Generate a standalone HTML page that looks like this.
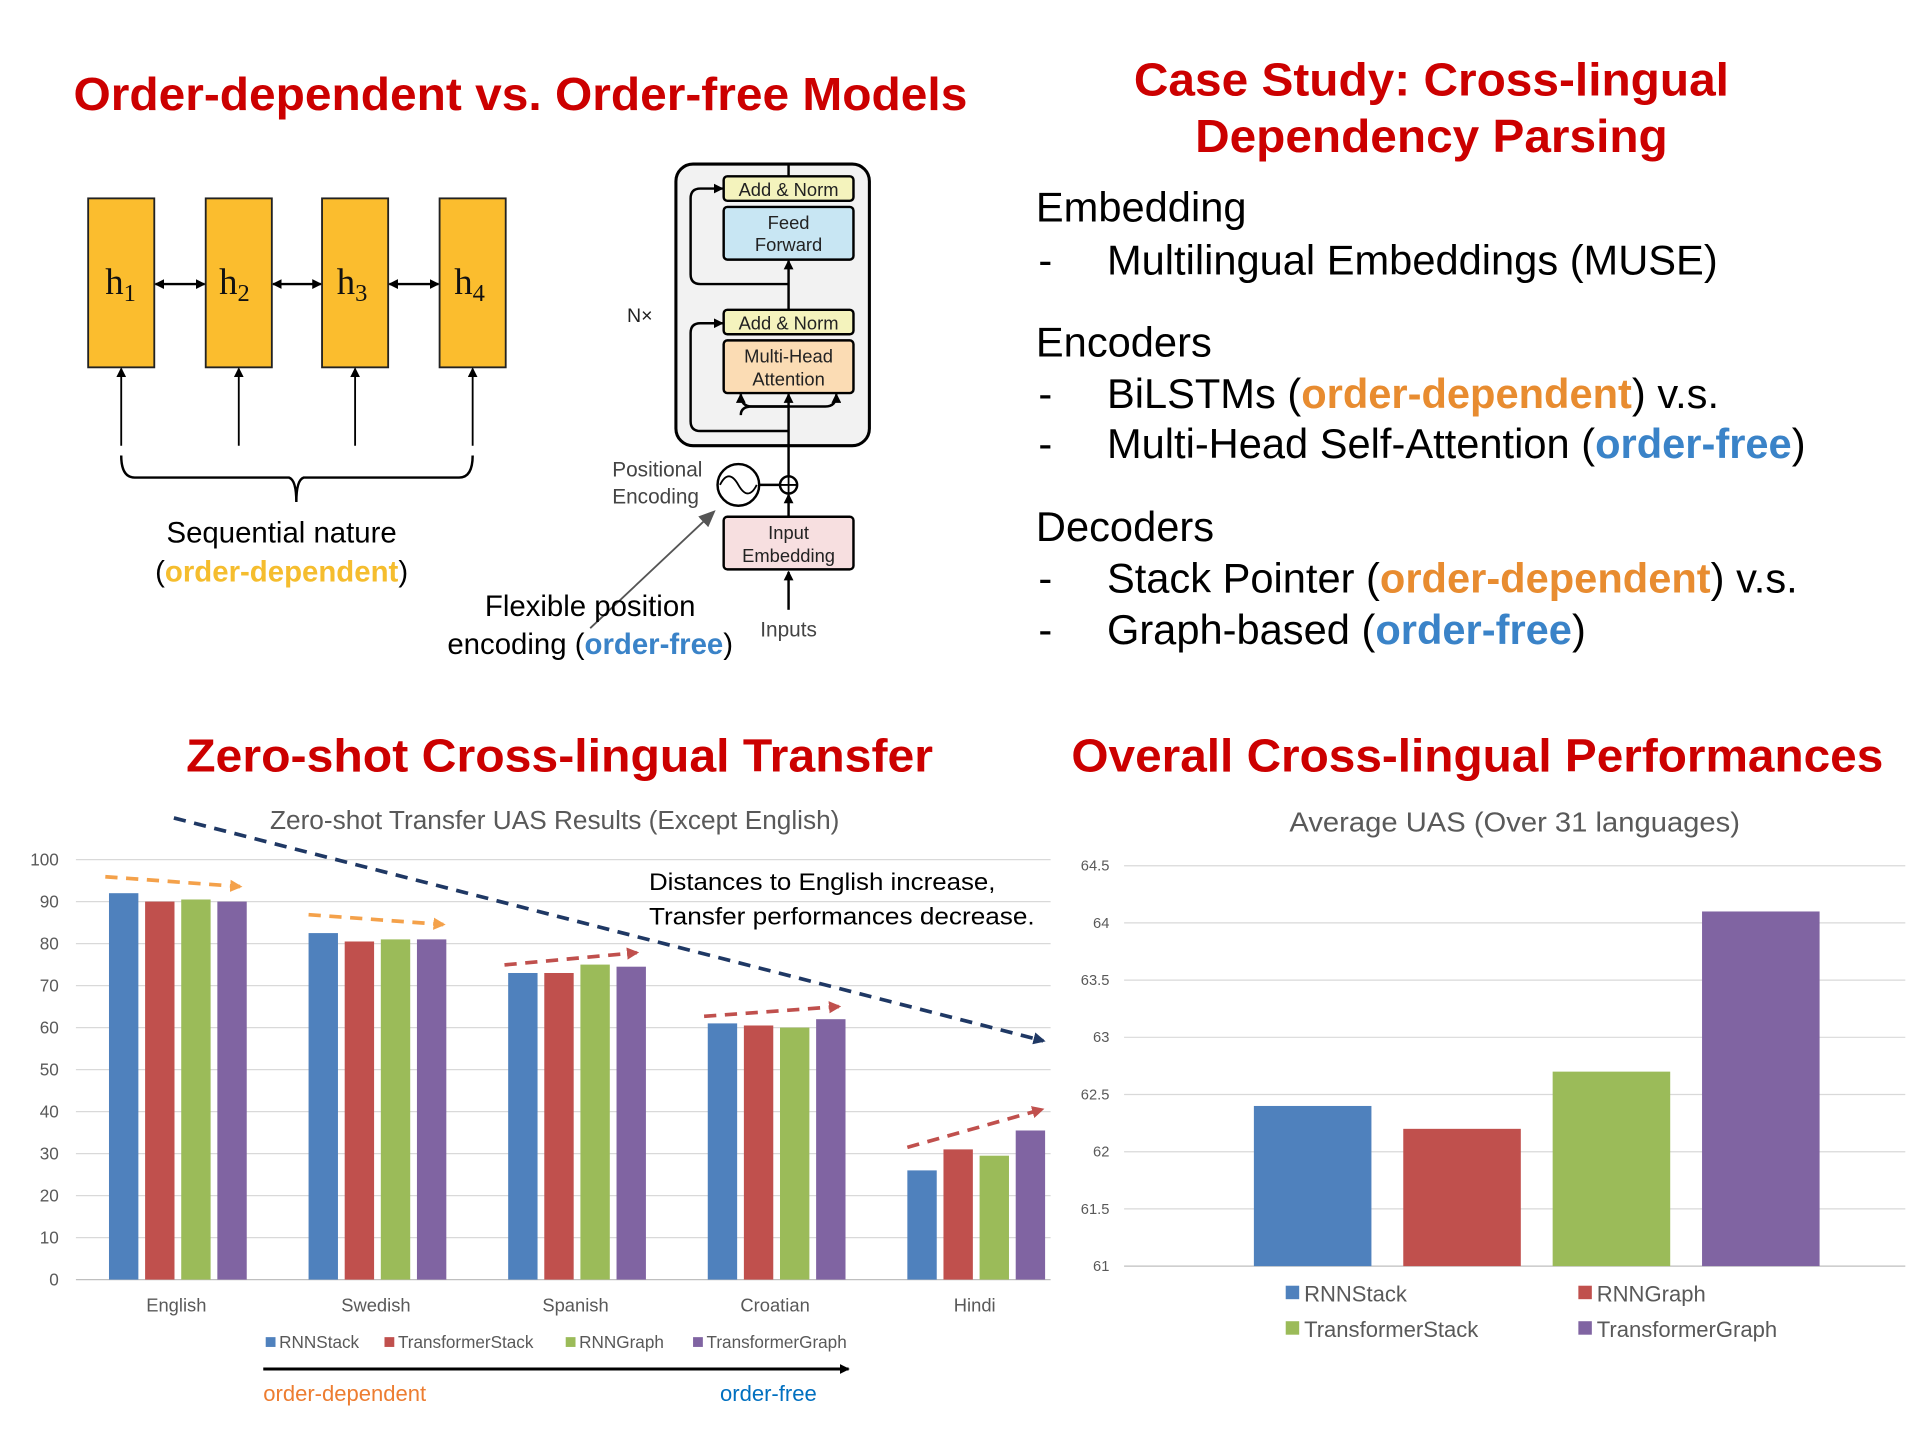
<!DOCTYPE html>
<html><head><meta charset="utf-8"><style>
html,body{margin:0;padding:0;background:#fff;}
svg{display:block;font-family:"Liberation Sans",sans-serif;}
</style></head><body>
<svg id="root" width="1920" height="1440" viewBox="0 0 1568 1176" preserveAspectRatio="none" xmlns="http://www.w3.org/2000/svg">
<defs>
<marker id="ab" markerWidth="8" markerHeight="8" refX="7" refY="4" orient="auto" markerUnits="userSpaceOnUse"><path d="M0,0 L8,4 L0,8z" fill="#000"/></marker>
<marker id="abs" markerWidth="8" markerHeight="8" refX="1" refY="4" orient="auto" markerUnits="userSpaceOnUse"><path d="M8,0 L0,4 L8,8z" fill="#000"/></marker>
<marker id="ag" markerWidth="14" markerHeight="12" refX="12" refY="6" orient="auto" markerUnits="userSpaceOnUse"><path d="M0,0 L14,6 L0,12z" fill="#555"/></marker>
<marker id="mo" markerWidth="10" markerHeight="10" refX="8" refY="5" orient="auto" markerUnits="userSpaceOnUse"><path d="M0,0 L10,5 L0,10z" fill="#f4a14a"/></marker>
<marker id="mr" markerWidth="10" markerHeight="10" refX="8" refY="5" orient="auto" markerUnits="userSpaceOnUse"><path d="M0,0 L10,5 L0,10z" fill="#c0504d"/></marker>
<marker id="mb" markerWidth="10" markerHeight="10" refX="8" refY="5" orient="auto" markerUnits="userSpaceOnUse"><path d="M0,0 L10,5 L0,10z" fill="#1f3864"/></marker>
</defs>

<text x="60" y="90" font-size="38" font-weight="bold" fill="#cc0000" textLength="730" lengthAdjust="spacingAndGlyphs">Order-dependent vs. Order-free Models</text>
<g>
<g fill="#fbbd2e" stroke="#222" stroke-width="1.5">
<rect x="72" y="162" width="54" height="138"/><rect x="168" y="162" width="54" height="138"/>
<rect x="263" y="162" width="54" height="138"/><rect x="359" y="162" width="54" height="138"/>
</g>
<g font-family="'Liberation Serif',serif" font-size="30" fill="#111">
<text x="86" y="240">h<tspan font-size="20" dy="6">1</tspan></text>
<text x="179" y="240">h<tspan font-size="20" dy="6">2</tspan></text>
<text x="275" y="240">h<tspan font-size="20" dy="6">3</tspan></text>
<text x="371" y="240">h<tspan font-size="20" dy="6">4</tspan></text>
</g>
<g stroke="#000" stroke-width="2" marker-end="url(#ab)" marker-start="url(#abs)">
<line x1="127" y1="232" x2="167" y2="232"/><line x1="223" y1="232" x2="262" y2="232"/><line x1="318" y1="232" x2="358" y2="232"/>
</g>
<g stroke="#000" stroke-width="1.5" marker-end="url(#ab)">
<line x1="99" y1="364" x2="99" y2="301"/><line x1="195" y1="364" x2="195" y2="301"/>
<line x1="290" y1="364" x2="290" y2="301"/><line x1="386" y1="364" x2="386" y2="301"/>
</g>
<path d="M99,372 Q99,390 110,390 L236,390 Q242,392 242,410 Q242,392 248,390 L375,390 Q386,390 386,372" fill="none" stroke="#000" stroke-width="2"/>
<text x="230" y="443" text-anchor="middle" font-size="24">Sequential nature</text>
<text x="230" y="475" text-anchor="middle" font-size="24">(<tspan fill="#f5bd2e" font-weight="bold">order-dependent</tspan>)</text>
</g>

<g font-size="15" fill="#222">
<rect x="552" y="134" width="158" height="230" rx="14" fill="#f2f2f2" stroke="#000" stroke-width="2.5"/>
<line x1="644" y1="134" x2="644" y2="144" stroke="#000" stroke-width="2"/>
<path d="M644,232 L572,232 Q564,232 564,224 L564,162 Q564,154 572,154 L590,154" fill="none" stroke="#000" stroke-width="2" marker-end="url(#ab)"/>
<path d="M644,352 L572,352 Q564,352 564,344 L564,272 Q564,264 572,264 L590,264" fill="none" stroke="#000" stroke-width="2" marker-end="url(#ab)"/>
<line x1="644" y1="253" x2="644" y2="213" stroke="#000" stroke-width="2" marker-end="url(#ab)"/>
<line x1="644" y1="389" x2="644" y2="322" stroke="#000" stroke-width="2" marker-end="url(#ab)"/>
<path d="M605,339 Q605,332 614,332 L674,332 Q683,332 683,322" fill="none" stroke="#000" stroke-width="2" marker-end="url(#ab)"/>
<path d="M644,332 L614,332 Q605,332 605,322" fill="none" stroke="#000" stroke-width="2" marker-end="url(#ab)"/>
<rect x="591" y="144" width="106" height="20" rx="3" fill="#f4f3bd" stroke="#000" stroke-width="2"/>
<text x="644" y="160" text-anchor="middle">Add &amp; Norm</text>
<rect x="591" y="169" width="106" height="43" rx="3" fill="#c8e6f3" stroke="#000" stroke-width="2"/>
<text x="644" y="187" text-anchor="middle">Feed</text><text x="644" y="205" text-anchor="middle">Forward</text>
<rect x="591" y="253" width="106" height="20" rx="3" fill="#f4f3bd" stroke="#000" stroke-width="2"/>
<text x="644" y="269" text-anchor="middle">Add &amp; Norm</text>
<rect x="591" y="278" width="106" height="43" rx="3" fill="#fbdcb4" stroke="#000" stroke-width="2"/>
<text x="644" y="296" text-anchor="middle">Multi-Head</text><text x="644" y="315" text-anchor="middle">Attention</text>
<text x="512" y="263" font-size="16">N×</text>
<circle cx="603" cy="396" r="17" fill="#fff" stroke="#000" stroke-width="2"/>
<path d="M588,396 Q595,382 603,396 Q611,410 618,396" fill="none" stroke="#000" stroke-width="1.5"/>
<line x1="620" y1="396" x2="637" y2="396" stroke="#000" stroke-width="2"/>
<circle cx="644" cy="396" r="7" fill="#fff" stroke="#000" stroke-width="2"/>
<line x1="637" y1="396" x2="651" y2="396" stroke="#000" stroke-width="1.5"/><line x1="644" y1="389" x2="644" y2="403" stroke="#000" stroke-width="1.5"/>
<line x1="644" y1="422" x2="644" y2="404" stroke="#000" stroke-width="2" marker-end="url(#ab)"/>
<rect x="591" y="422" width="106" height="43" rx="3" fill="#f7dfe0" stroke="#000" stroke-width="2"/>
<text x="644" y="440" text-anchor="middle">Input</text><text x="644" y="459" text-anchor="middle">Embedding</text>
<line x1="644" y1="498" x2="644" y2="467" stroke="#000" stroke-width="2" marker-end="url(#ab)"/>
<text x="500" y="389" font-size="17" fill="#444">Positional</text><text x="500" y="411" font-size="17" fill="#444">Encoding</text>
<text x="644" y="520" text-anchor="middle" font-size="17" fill="#444">Inputs</text>
<line x1="482" y1="513" x2="583" y2="418" stroke="#555" stroke-width="1.5" marker-end="url(#ag)"/>
<text x="482" y="503" text-anchor="middle" font-size="24" fill="#000">Flexible position</text>
<text x="482" y="534" text-anchor="middle" font-size="24" fill="#000">encoding (<tspan fill="#3a83c8" font-weight="bold">order-free</tspan>)</text>
</g>

<g font-size="34" fill="#000">
<text x="926" y="78" font-size="38" font-weight="bold" fill="#cc0000" textLength="486" lengthAdjust="spacingAndGlyphs">Case Study: Cross-lingual</text>
<text x="976" y="124" font-size="38" font-weight="bold" fill="#cc0000" textLength="386" lengthAdjust="spacingAndGlyphs">Dependency Parsing</text>
<text x="846" y="181">Embedding</text>
<text x="848" y="224">-</text><text x="904" y="224">Multilingual Embeddings (MUSE)</text>
<text x="846" y="291">Encoders</text>
<text x="848" y="333">-</text><text x="904" y="333">BiLSTMs (<tspan fill="#e88c30" font-weight="bold">order-dependent</tspan>) v.s.</text>
<text x="848" y="374">-</text><text x="904" y="374">Multi-Head Self-Attention (<tspan fill="#3a83c8" font-weight="bold">order-free</tspan>)</text>
<text x="846" y="442">Decoders</text>
<text x="848" y="484">-</text><text x="904" y="484">Stack Pointer (<tspan fill="#e88c30" font-weight="bold">order-dependent</tspan>) v.s.</text>
<text x="848" y="526">-</text><text x="904" y="526">Graph-based (<tspan fill="#3a83c8" font-weight="bold">order-free</tspan>)</text>
</g>

<text x="152" y="630" font-size="38" font-weight="bold" fill="#cc0000" textLength="610" lengthAdjust="spacingAndGlyphs">Zero-shot Cross-lingual Transfer</text>
<text x="875" y="630" font-size="38" font-weight="bold" fill="#cc0000" textLength="663" lengthAdjust="spacingAndGlyphs">Overall Cross-lingual Performances</text>
<text x="453" y="677" text-anchor="middle" font-size="21" fill="#595959" textLength="465" lengthAdjust="spacingAndGlyphs">Zero-shot Transfer UAS Results (Except English)</text>
<text x="1237" y="679" text-anchor="middle" font-size="23" fill="#595959" textLength="368" lengthAdjust="spacingAndGlyphs">Average UAS (Over 31 languages)</text>

<g id="left-chart"></g>
<g id="right-chart"></g>

<g stroke-width="3" stroke-dasharray="10,7" fill="none">
<line x1="142" y1="668" x2="852" y2="850" stroke="#1f3864" marker-end="url(#mb)"/>
<line x1="86" y1="716" x2="196" y2="724" stroke="#f4a14a" marker-end="url(#mo)"/>
<line x1="252" y1="747" x2="362" y2="755" stroke="#f4a14a" marker-end="url(#mo)"/>
<line x1="412" y1="788" x2="520" y2="778" stroke="#c0504d" marker-end="url(#mr)"/>
<line x1="575" y1="830" x2="685" y2="822" stroke="#c0504d" marker-end="url(#mr)"/>
<line x1="741" y1="937" x2="851" y2="906" stroke="#c0504d" marker-end="url(#mr)"/>
</g>
<text x="530" y="727" font-size="20" fill="#000" textLength="283" lengthAdjust="spacingAndGlyphs">Distances to English increase,</text>
<text x="530" y="755" font-size="20" fill="#000" textLength="315" lengthAdjust="spacingAndGlyphs">Transfer performances decrease.</text>
<line x1="215" y1="1118" x2="693" y2="1118" stroke="#000" stroke-width="2.5" marker-end="url(#ab)"/>
<text x="215" y="1144" font-size="18" fill="#ed7d31">order-dependent</text>
<text x="588" y="1144" font-size="18" fill="#0070c0">order-free</text>
</svg>
<script>
const categories = ["English","Swedish","Spanish","Croatian","Hindi"];
const seriesNames = ["RNNStack","TransformerStack","RNNGraph","TransformerGraph"];
const rnnStack = [92, 82.5, 73, 61, 26];
const transformerStack = [90, 80.5, 73, 60.5, 31];
const rnnGraph = [90.5, 81, 75, 60, 29.5];
const transformerGraph = [90, 81, 74.5, 62, 35.5];
const leftTicks = [0,10,20,30,40,50,60,70,80,90,100];

const avgNames = ["RNNStack","RNNGraph","TransformerStack","TransformerGraph"];
const avgValues = [62.4, 62.2, 62.7, 64.1];
const rightTicks = [61,61.5,62,62.5,63,63.5,64,64.5];

const colors = ["#4f81bd","#c0504d","#9bbb59","#8064a2"];
const NS = "http://www.w3.org/2000/svg";
function mk(tag, attrs, parent){const e=document.createElementNS(NS,tag);for(const k in attrs)e.setAttribute(k,attrs[k]);parent.appendChild(e);return e;}

const L = document.getElementById("left-chart");
const ly = v => 1045 - (v/100)*343;
const groupX = i => 144 + i*163;
leftTicks.forEach(t=>{
  const g = mk("line",{x1:62,x2:858,y1:ly(t),y2:ly(t),stroke:t===0?"#bfbfbf":"#d9d9d9","stroke-width":1},L);
  
  
  const tx = mk("text",{x:48,y:ly(t)+5,"text-anchor":"end","font-size":14,fill:"#595959"},L);
  
  
  tx.textContent = t;
});
const leftSeries = [rnnStack, transformerStack, rnnGraph, transformerGraph];
categories.forEach((c,i)=>{
  leftSeries.forEach((s,j)=>{
    const x = groupX(i) - 55 + j*29.5;
    const r = mk("rect",{x:x,y:ly(s[i]),width:24,height:ly(0)-ly(s[i]),fill:colors[j]},L);
    
    
  });
  const t = mk("text",{x:groupX(i),y:1071,"text-anchor":"middle","font-size":15,fill:"#595959"},L);
  
  
  t.textContent = c;
});
const legX = [217, 314, 462, 566];
seriesNames.forEach((n,j)=>{
  const r = mk("rect",{x:legX[j],y:1092,width:8,height:8,fill:colors[j]},L);
  
  
  const t = mk("text",{x:legX[j]+11,y:1101,"font-size":14,fill:"#595959"},L);
  
  
  t.textContent = n;
});

const R = document.getElementById("right-chart");
const ry = v => 1034 - ((v-61)/3.5)*327;
rightTicks.forEach(t=>{
  const g = mk("line",{x1:918,x2:1556,y1:ry(t),y2:ry(t),stroke:t===61?"#bfbfbf":"#d9d9d9","stroke-width":1},R);
  
  
  const tx = mk("text",{x:906,y:ry(t)+4,"text-anchor":"end","font-size":12,fill:"#595959"},R);
  
  
  tx.textContent = t;
});
avgValues.forEach((v,i)=>{
  const r = mk("rect",{x:1024+i*122,y:ry(v),width:96,height:ry(61)-ry(v),fill:colors[i]},R);
  
  
});
const rLeg = [[1050,1063],[1289,1063],[1050,1092],[1289,1092]];
const rLegIdx = [0,1,2,3];
rLegIdx.forEach((k,j)=>{
  const r = mk("rect",{x:rLeg[j][0],y:rLeg[j][1]-13,width:11,height:11,fill:colors[k]},R);
  
  
  const t = mk("text",{x:rLeg[j][0]+15,y:rLeg[j][1],"font-size":18,fill:"#595959"},R);
  
  
  t.textContent = avgNames[k];
});
</script>
</body></html>
